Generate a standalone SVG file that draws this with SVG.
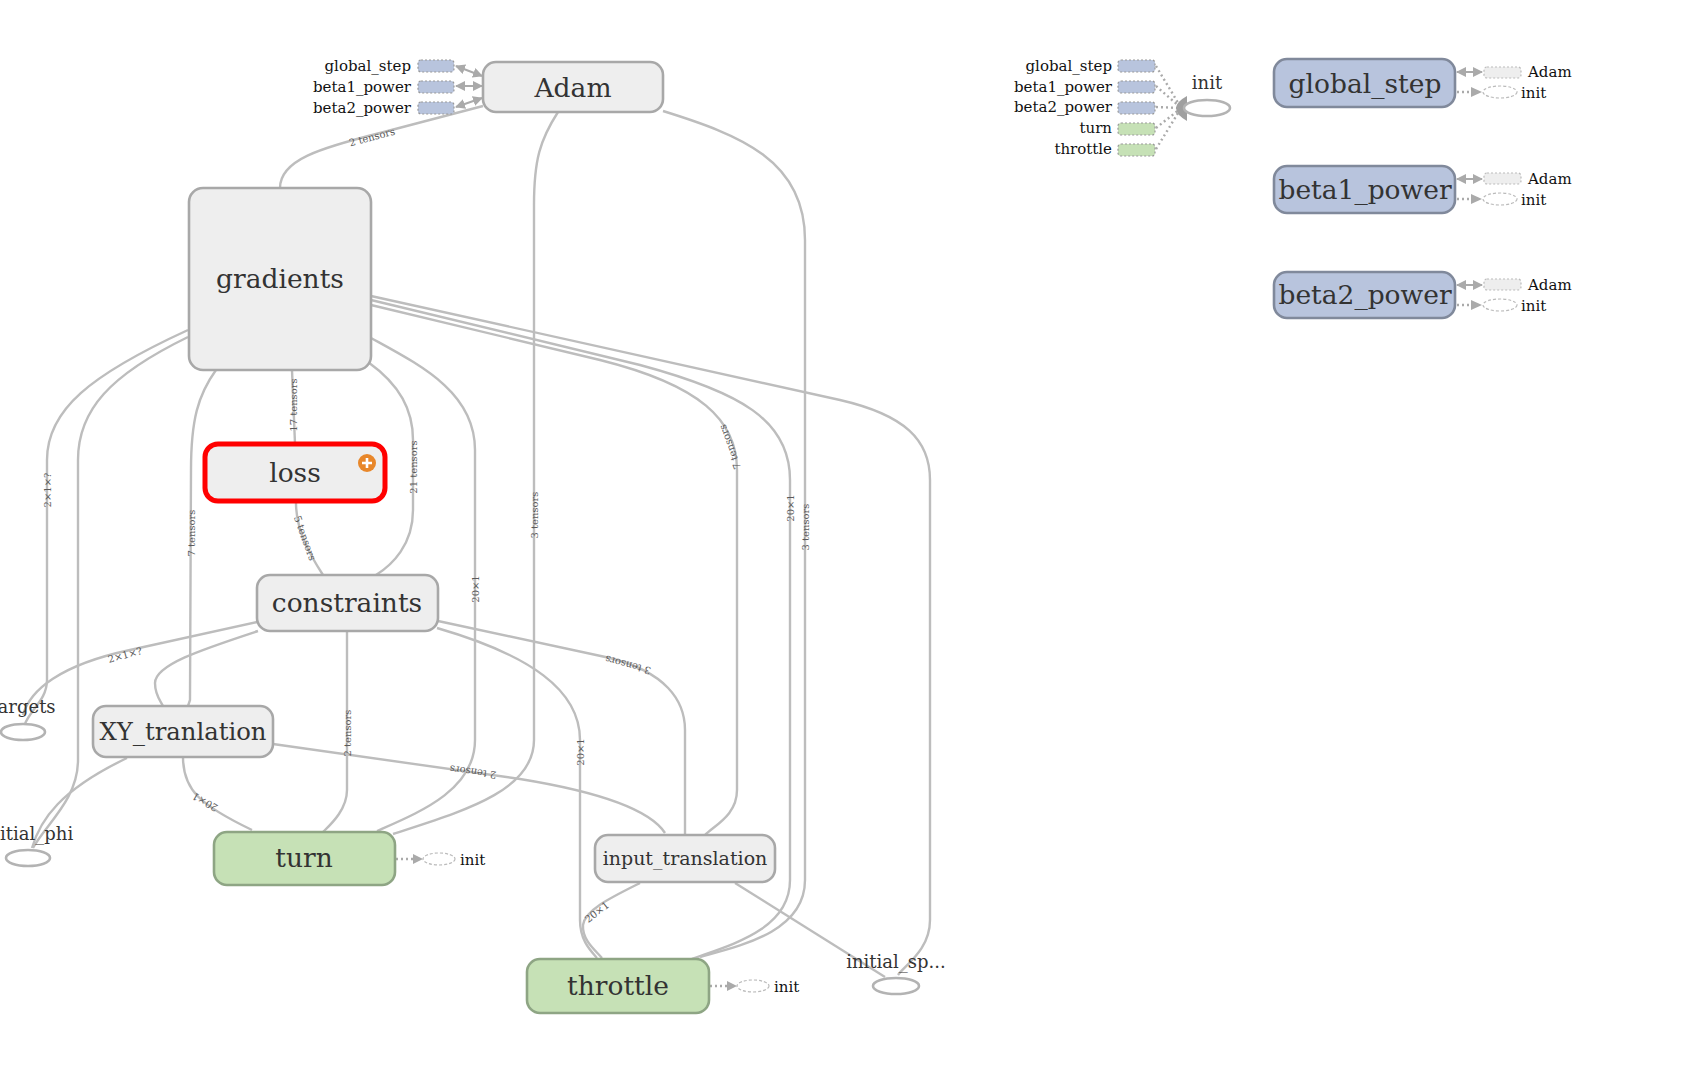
<svg xmlns="http://www.w3.org/2000/svg" width="1699" height="1076" viewBox="0 0 1699 1076">
  <style>
    .edge { fill: none; stroke: #bdbdbd; stroke-width: 2.4; }
    .elabel { font-family: "DejaVu Serif", serif; font-size: 10px; fill: #5a5a5a; text-anchor: middle; }
    .box { fill: #eeeeee; stroke: #a8a8a8; stroke-width: 2.6; }
    .var { fill: #c6e1b6; stroke: #8ea584; stroke-width: 2.6; }
    .blue { fill: #b8c4dd; stroke: #80899b; stroke-width: 2.6; }
    .name { font-family: "DejaVu Serif", serif; font-size: 26.5px; fill: #333; text-anchor: middle; }
    .oval { fill: #fff; stroke: #b3b3b3; stroke-width: 2.6; }
    .olabel { font-family: "DejaVu Serif", serif; font-size: 18px; fill: #333; text-anchor: middle; }
    .small { font-family: "DejaVu Serif", serif; font-size: 15px; fill: #111; }
    .stub-b { fill: #b8c4dd; stroke: #999; stroke-width: 1.2; stroke-dasharray: 2 2; }
    .stub-g { fill: #c6e1b6; stroke: #999; stroke-width: 1.2; stroke-dasharray: 2 2; }
    .stub-e { fill: #eeeeee; stroke: #bbb; stroke-width: 1.2; stroke-dasharray: 2 2; }
    .stub-o { fill: #fff; stroke: #bbb; stroke-width: 1.2; stroke-dasharray: 3 2; }
    .ctrl { fill: none; stroke: #aaa; stroke-width: 2.4; stroke-dasharray: 2 3; }
    .ref { fill: none; stroke: #aaa; stroke-width: 2; }
  </style>
  <defs>
    <marker id="head" viewBox="0 0 10 10" refX="9" refY="5" markerWidth="5" markerHeight="5" orient="auto-start-reverse">
      <path d="M0,0 L10,5 L0,10 Z" fill="#aaa"/>
    </marker>
  </defs>

  <!-- dataflow edges -->
  <g id="edges">
    <path class="edge" d="M280,188 C280,160 320,148 380,133 L483,106"/>
    <path class="edge" d="M292,370 L295,444"/>
    <path class="edge" d="M368,362 C400,385 413,410 413,440 L413,510 C413,545 392,565 376,575"/>
    <path class="edge" d="M371,338 C420,365 475,392 475,450 L475,740 C475,790 420,812 377,831"/>
    <path class="edge" d="M558,112 C540,140 534,160 534,205 L534,740 C534,792 460,812 393,834"/>
    <path class="edge" d="M371,305 L600,360 C700,385 737,420 737,470 L737,790 C737,815 715,825 705,835"/>
    <path class="edge" d="M371,300 L640,365 C740,392 790,420 790,480 L790,880 C790,930 730,945 692,959"/>
    <path class="edge" d="M663,111 C740,135 805,160 805,240 L805,880 C805,932 740,946 700,957"/>
    <path class="edge" d="M371,296 L840,400 C905,415 930,440 930,480 L930,920 C930,950 905,965 898,975"/>
    <path class="edge" d="M188,330 C90,375 47,410 47,460 L47,680 C47,700 30,710 25,724"/>
    <path class="edge" d="M188,337 C110,375 78,410 78,460 L78,760 C78,800 45,825 33,848"/>
    <path class="edge" d="M216,370 C198,395 191,420 191,470 L190,700 L188,706"/>
    <path class="edge" d="M296,503 C296,530 310,555 323,575"/>
    <path class="edge" d="M257,622 L130,650 C60,665 30,690 23,715"/>
    <path class="edge" d="M258,631 C200,650 155,665 155,683 C155,695 160,700 163,706"/>
    <path class="edge" d="M347,631 L347,790 C347,810 330,825 323,832"/>
    <path class="edge" d="M438,621 L610,658 C665,672 685,700 685,730 L685,835"/>
    <path class="edge" d="M437,628 C530,655 580,690 580,740 L580,920 C580,940 590,950 597,958"/>
    <path class="edge" d="M273,744 L520,779 C600,792 650,810 665,833"/>
    <path class="edge" d="M183,757 C183,790 200,805 252,830"/>
    <path class="edge" d="M127,758 C60,790 40,820 32,848"/>
    <path class="edge" d="M640,883 C610,898 585,910 583,925 C582,940 595,950 602,958"/>
    <path class="edge" d="M735,883 L885,977"/>

    <text class="elabel" transform="translate(372,137) rotate(-15)" dy="0.35em">2 tensors</text>
    <text class="elabel" transform="translate(293,405) rotate(-90)" dy="0.35em">17 tensors</text>
    <text class="elabel" transform="translate(413,467) rotate(-90)" dy="0.35em">21 tensors</text>
    <text class="elabel" transform="translate(475,589) rotate(-90)" dy="0.35em">20×1</text>
    <text class="elabel" transform="translate(534,515) rotate(-90)" dy="0.35em">3 tensors</text>
    <text class="elabel" transform="translate(730,447) rotate(-110)" dy="0.35em">7 tensors</text>
    <text class="elabel" transform="translate(790,508) rotate(-90)" dy="0.35em">20×1</text>
    <text class="elabel" transform="translate(805,527) rotate(-90)" dy="0.35em">3 tensors</text>
    <text class="elabel" transform="translate(47,490) rotate(-90)" dy="0.35em">2×1×?</text>
    <text class="elabel" transform="translate(191,533) rotate(-90)" dy="0.35em">7 tensors</text>
    <text class="elabel" transform="translate(305,538) rotate(70)" dy="0.35em">5 tensors</text>
    <text class="elabel" transform="translate(125,655) rotate(-15)" dy="0.35em">2×1×?</text>
    <text class="elabel" transform="translate(347,733) rotate(-90)" dy="0.35em">2 tensors</text>
    <text class="elabel" transform="translate(628,665) rotate(195)" dy="0.35em">3 tensors</text>
    <text class="elabel" transform="translate(580,752) rotate(-90)" dy="0.35em">20×1</text>
    <text class="elabel" transform="translate(473,772) rotate(188)" dy="0.35em">2 tensors</text>
    <text class="elabel" transform="translate(205,802) rotate(210)" dy="0.35em">20×1</text>
    <text class="elabel" transform="translate(597,912) rotate(-38)" dy="0.35em">20×1</text>
  </g>

  <!-- Adam and its variable references -->
  <g id="node-adam">
    <line class="ref" x1="456" y1="66" x2="482" y2="76" marker-start="url(#head)" marker-end="url(#head)"/>
    <line class="ref" x1="456" y1="86" x2="482" y2="86" marker-start="url(#head)" marker-end="url(#head)"/>
    <line class="ref" x1="456" y1="107" x2="482" y2="98" marker-start="url(#head)" marker-end="url(#head)"/>
    <rect class="stub-b" x="418" y="60" width="36" height="12" rx="3"/>
    <rect class="stub-b" x="418" y="81" width="36" height="12" rx="3"/>
    <rect class="stub-b" x="418" y="102" width="36" height="12" rx="3"/>
    <text class="small" x="411" y="71" text-anchor="end">global_step</text>
    <text class="small" x="411" y="92" text-anchor="end">beta1_power</text>
    <text class="small" x="411" y="113" text-anchor="end">beta2_power</text>
    <rect class="box" x="483" y="62" width="180" height="50" rx="13"/>
    <text class="name" x="573" y="97">Adam</text>
  </g>

  <g id="node-gradients">
    <rect class="box" x="189" y="188" width="182" height="182" rx="14"/>
    <text class="name" x="280" y="288">gradients</text>
  </g>

  <g id="node-loss">
    <rect x="205" y="444" width="180" height="57" rx="13" fill="#eeeeee" stroke="#ff0000" stroke-width="5"/>
    <text class="name" x="295" y="482">loss</text>
    <circle cx="367" cy="463" r="9" fill="#e8872a"/>
    <path d="M362,463 H372 M367,458 V468" stroke="#fff" stroke-width="2.6"/>
  </g>

  <g id="node-constraints">
    <rect class="box" x="257" y="575" width="181" height="56" rx="13"/>
    <text class="name" x="347" y="612">constraints</text>
  </g>

  <g id="node-xy-tranlation">
    <rect class="box" x="93" y="706" width="180" height="51" rx="13"/>
    <text class="name" x="183" y="740" style="font-size:24.3px">XY_tranlation</text>
  </g>

  <g id="node-turn">
    <path class="ctrl" d="M396,859 H414"/>
    <path d="M413,854 L423,859 L413,864 Z" fill="#aaa"/>
    <ellipse class="stub-o" cx="439" cy="859" rx="16" ry="6"/>
    <text class="small" x="460" y="865">init</text>
    <rect class="var" x="214" y="832" width="181" height="53" rx="13"/>
    <text class="name" x="304" y="867">turn</text>
  </g>

  <g id="node-input-translation">
    <rect class="box" x="595" y="835" width="180" height="47" rx="13"/>
    <text class="name" x="685" y="865" style="font-size:19px">input_translation</text>
  </g>

  <g id="node-throttle">
    <path class="ctrl" d="M710,986 H728"/>
    <path d="M727,981 L737,986 L727,991 Z" fill="#aaa"/>
    <ellipse class="stub-o" cx="753" cy="986" rx="16" ry="6"/>
    <text class="small" x="774" y="992">init</text>
    <rect class="var" x="527" y="959" width="182" height="54" rx="13"/>
    <text class="name" x="618" y="995">throttle</text>
  </g>

  <g id="node-targets">
    <ellipse class="oval" cx="23" cy="732" rx="22" ry="8"/>
    <text class="olabel" x="23" y="713">targets</text>
  </g>

  <g id="node-initial-phi">
    <ellipse class="oval" cx="28" cy="858" rx="22" ry="8"/>
    <text class="olabel" x="28" y="840">initial_phi</text>
  </g>

  <g id="node-initial-sp">
    <ellipse class="oval" cx="896" cy="986" rx="23" ry="8"/>
    <text class="olabel" x="896" y="968">initial_sp...</text>
  </g>

  <!-- init and the variables it initialises -->
  <g id="node-init">
    <path class="ctrl" d="M1156,66 L1180,106 M1156,86 L1180,107 M1156,107 L1180,108 M1156,128 L1180,109 M1156,149 L1180,110"/>
    <rect class="stub-b" x="1118" y="60" width="37" height="12" rx="3"/>
    <rect class="stub-b" x="1118" y="81" width="37" height="12" rx="3"/>
    <rect class="stub-b" x="1118" y="102" width="37" height="12" rx="3"/>
    <rect class="stub-g" x="1118" y="123" width="37" height="12" rx="3"/>
    <rect class="stub-g" x="1118" y="144" width="37" height="12" rx="3"/>
    <text class="small" x="1112" y="71" text-anchor="end">global_step</text>
    <text class="small" x="1112" y="92" text-anchor="end">beta1_power</text>
    <text class="small" x="1112" y="112" text-anchor="end">beta2_power</text>
    <text class="small" x="1112" y="133" text-anchor="end">turn</text>
    <text class="small" x="1112" y="154" text-anchor="end">throttle</text>
    <path d="M1187,96 Q1165,108 1187,121 Z" fill="#a0a0a0"/>
    <ellipse class="oval" cx="1207" cy="108" rx="23" ry="8"/>
    <text class="olabel" x="1207" y="89">init</text>
  </g>

  <g id="node-global-step">
    <line class="ref" x1="1457" y1="72" x2="1482" y2="72" marker-start="url(#head)" marker-end="url(#head)"/>
    <path class="ctrl" d="M1457,92 H1472"/>
    <path d="M1471,87 L1482,92 L1471,97 Z" fill="#aaa"/>
    <rect class="stub-e" x="1484" y="67" width="37" height="11" rx="3"/>
    <ellipse class="stub-o" cx="1500" cy="92" rx="17" ry="6"/>
    <text class="small" x="1528" y="77">Adam</text>
    <text class="small" x="1521" y="98">init</text>
    <rect class="blue" x="1274" y="59" width="181" height="48" rx="13"/>
    <text class="name" x="1365" y="93">global_step</text>
  </g>

  <g id="node-beta1-power">
    <line class="ref" x1="1457" y1="179" x2="1482" y2="179" marker-start="url(#head)" marker-end="url(#head)"/>
    <path class="ctrl" d="M1457,199 H1472"/>
    <path d="M1471,194 L1482,199 L1471,204 Z" fill="#aaa"/>
    <rect class="stub-e" x="1484" y="173" width="37" height="11" rx="3"/>
    <ellipse class="stub-o" cx="1500" cy="199" rx="17" ry="6"/>
    <text class="small" x="1528" y="184">Adam</text>
    <text class="small" x="1521" y="205">init</text>
    <rect class="blue" x="1274" y="166" width="181" height="47" rx="13"/>
    <text class="name" x="1365" y="199">beta1_power</text>
  </g>

  <g id="node-beta2-power">
    <line class="ref" x1="1457" y1="285" x2="1482" y2="285" marker-start="url(#head)" marker-end="url(#head)"/>
    <path class="ctrl" d="M1457,305 H1472"/>
    <path d="M1471,300 L1482,305 L1471,310 Z" fill="#aaa"/>
    <rect class="stub-e" x="1484" y="279" width="37" height="11" rx="3"/>
    <ellipse class="stub-o" cx="1500" cy="305" rx="17" ry="6"/>
    <text class="small" x="1528" y="290">Adam</text>
    <text class="small" x="1521" y="311">init</text>
    <rect class="blue" x="1274" y="272" width="181" height="46" rx="13"/>
    <text class="name" x="1365" y="304">beta2_power</text>
  </g>
</svg>
